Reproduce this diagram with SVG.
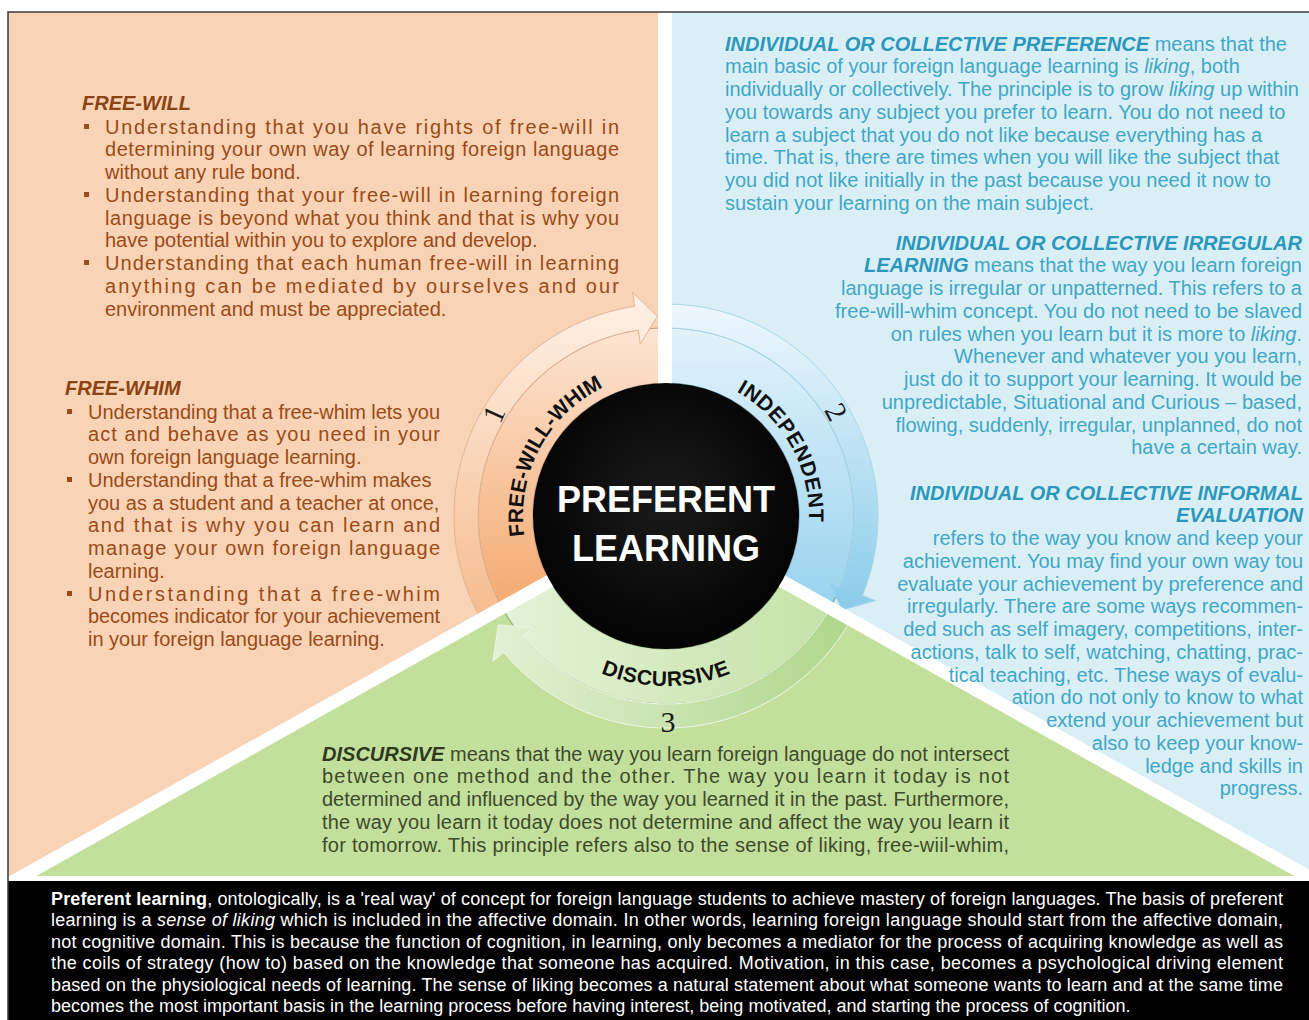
<svg xmlns="http://www.w3.org/2000/svg" width="1309" height="1020" viewBox="0 0 1309 1020">
<style>
.t{font-family:"Liberation Sans",Arial,sans-serif;font-size:20px}
.pe{fill:#9a4b17}
.peh{fill:#8c4312}
.bl{fill:#40a7c7}
.blh{fill:#2b97bc}
.gr{fill:#3d4b2c}
.grh{fill:#2e3a20}
.h{font-weight:bold;font-style:italic}
.it{font-style:italic}
.wb{font-family:"Liberation Sans",Arial,sans-serif;font-size:18px;fill:#ffffff}
.lbl{font-family:"Liberation Sans",Arial,sans-serif;font-weight:bold;font-size:21px;fill:#111111}
.dig{font-family:"Liberation Serif","Times New Roman",serif;font-size:30px;fill:#1a1a1a}
.ctr{font-family:"Liberation Sans",Arial,sans-serif;font-weight:bold;font-size:36px;fill:#ffffff}
.sep{stroke:#ffffff;fill:none}
</style>
<defs>
<linearGradient id="gPeachIn" gradientUnits="userSpaceOnUse" x1="0" y1="320" x2="0" y2="625"><stop offset="0" stop-color="#fde6d6"/><stop offset="1" stop-color="#f3a66a"/></linearGradient>
<linearGradient id="gPeachArr" gradientUnits="userSpaceOnUse" x1="0" y1="295" x2="0" y2="625"><stop offset="0" stop-color="#fff1e6"/><stop offset="1" stop-color="#f5ba8c"/></linearGradient>
<linearGradient id="gBlueIn" gradientUnits="userSpaceOnUse" x1="0" y1="320" x2="0" y2="610"><stop offset="0" stop-color="#e4f4fb"/><stop offset="1" stop-color="#98d2ee"/></linearGradient>
<linearGradient id="gBlueArr" gradientUnits="userSpaceOnUse" x1="0" y1="300" x2="0" y2="615"><stop offset="0" stop-color="#eff8fd"/><stop offset="1" stop-color="#88cbea"/></linearGradient>
<linearGradient id="gGreenIn" gradientUnits="userSpaceOnUse" x1="500" y1="0" x2="840" y2="0"><stop offset="0" stop-color="#e4f2d7"/><stop offset="1" stop-color="#c4e2a6"/></linearGradient>
<linearGradient id="gGreenArr" gradientUnits="userSpaceOnUse" x1="480" y1="0" x2="860" y2="0"><stop offset="0" stop-color="#e3f1d6"/><stop offset="1" stop-color="#aed68a"/></linearGradient>
<radialGradient id="gCircle" cx="0.5" cy="0.45" r="0.55"><stop offset="0" stop-color="#1b1b1b"/><stop offset="1" stop-color="#030303"/></radialGradient>
<path id="fwwPath" d="M 524.4 535.9 A 143 143 0 0 1 617.1 381.6"/>
<path id="indPath" d="M 733.1 389.7 A 143 143 0 0 1 808.5 528.5"/>
<path id="disPath" d="M 568.5 655.3 A 170 170 0 0 0 763.5 655.3"/>
</defs>

<g id="background">
<rect x="0" y="0" width="1309" height="1020" fill="#ffffff"/>
<rect x="8" y="12" width="658" height="870" fill="#f9d3b6"/>
<rect x="666" y="12" width="643" height="870" fill="#daeff5"/>
<path d="M666 516 L8 884.3 L8 900 L1309 900 L1309 876.9 Z" fill="#c3df9c"/>
</g>

<g id="segment-free-will-whim">
<path d="M 501.3 606.6 A 188 188 0 0 1 666 328 L 666 383 A 133 133 0 0 0 549.5 580.1 Z" fill="url(#gPeachIn)" stroke="#a8856d" stroke-width="1.2" stroke-opacity="0.7"/>
</g>
<g id="segment-independent">
<path d="M 666 328 A 188 188 0 0 1 830 608 L 782 581.1 A 133 133 0 0 0 666 383 Z" fill="url(#gBlueIn)" stroke="#5f8fa3" stroke-width="1.2" stroke-opacity="0.7"/>
</g>
<g id="segment-discursive">
<path d="M 830 608 A 188 188 0 0 1 501.3 606.6 L 549.5 580.1 A 133 133 0 0 0 782 581.1 Z" fill="url(#gGreenIn)" stroke="#7d9d68" stroke-width="1.2" stroke-opacity="0.7"/>
</g>

<g id="connectors">
<path id="arrow-1" d="M 480.2 618.1 A 212 212 0 0 1 634.7 306.3 L 632.6 292.5 L 657.3 316.2 L 640.3 343.9 L 638.2 330.1 A 188 188 0 0 0 501.3 606.6 Z" fill="url(#gPeachArr)" stroke="#e2b596" stroke-width="1"/>
<path id="arrow-2" d="M 666 304 A 212 212 0 0 1 862.6 595.4 L 875.5 600.7 L 842.6 609.9 L 827.3 581.2 L 840.3 586.4 A 188 188 0 0 0 666 328 Z" fill="url(#gBlueArr)" stroke="#a9d7ec" stroke-width="1"/>
<path id="arrow-3" d="M 850.9 619.8 A 212 212 0 0 1 503.6 652.3 L 492.9 661.3 L 498.3 624.9 L 532.7 627.8 L 522 636.8 A 188 188 0 0 0 830 608 Z" fill="url(#gGreenArr)" stroke="#eef7e6" stroke-width="1"/>
</g>

<g id="separators">
<rect x="658" y="12" width="14" height="505" fill="#ffffff"/>
<line class="sep" x1="666" y1="516" x2="8" y2="884.3" stroke-width="13"/>
<line class="sep" x1="666" y1="516" x2="1332" y2="889.8" stroke-width="13"/>
<rect x="8" y="876" width="1301" height="6" fill="#ffffff"/>
</g>

<g id="center">
<circle cx="666" cy="516" r="133" fill="url(#gCircle)"/>
<text class="ctr" x="666" y="512" text-anchor="middle">PREFERENT</text>
<text class="ctr" x="666" y="561" text-anchor="middle">LEARNING</text>
</g>

<g id="ring-labels">
<text class="lbl"><textPath href="#fwwPath" startOffset="0">FREE-W</textPath></text>
<text class="lbl"><textPath href="#fwwPath" startOffset="82.8">ILL-WHIM</textPath></text>
<text class="lbl" letter-spacing="0.6"><textPath href="#indPath" startOffset="4">INDEPEN</textPath></text>
<text class="lbl" letter-spacing="0.6"><textPath href="#indPath" startOffset="101.5">DENT</textPath></text>
<text class="lbl" letter-spacing="0.5"><textPath href="#disPath" startOffset="50%" text-anchor="middle">DISCURSIVE</textPath></text>
<text class="dig" text-anchor="middle" transform="translate(494 414) rotate(-66)" x="0" y="10">1</text>
<text class="dig" text-anchor="middle" transform="translate(836 412) rotate(62)" x="0" y="10">2</text>
<text class="dig" text-anchor="middle" x="668" y="732">3</text>
</g>

<g id="free-will">
<text class="t peh h" x="82" y="110">FREE-WILL</text>
<rect x="84" y="124" width="5" height="5" fill="#9a4b17"/>
<rect x="84" y="192" width="5" height="5" fill="#9a4b17"/>
<rect x="84" y="260" width="5" height="5" fill="#9a4b17"/>
<text class="t pe" x="105" y="133.5" textLength="514" lengthAdjust="spacing">Understanding that you have rights of free-will in</text>
<text class="t pe" x="105" y="156.3" textLength="514" lengthAdjust="spacing">determining your own way of learning foreign language</text>
<text class="t pe" x="105" y="179">without any rule bond.</text>
<text class="t pe" x="105" y="201.8" textLength="514" lengthAdjust="spacing">Understanding that your free-will in learning foreign</text>
<text class="t pe" x="105" y="224.5" textLength="514" lengthAdjust="spacing">language is beyond what you think and that is why you</text>
<text class="t pe" x="105" y="247.3">have potential within you to explore and develop.</text>
<text class="t pe" x="105" y="270" textLength="514" lengthAdjust="spacing">Understanding that each human free-will in learning</text>
<text class="t pe" x="105" y="292.8" textLength="514" lengthAdjust="spacing">anything can be mediated by ourselves and our</text>
<text class="t pe" x="105" y="315.5">environment and must be appreciated.</text>
</g>

<g id="free-whim">
<text class="t peh h" x="65" y="395">FREE-WHIM</text>
<rect x="67" y="409" width="5" height="5" fill="#9a4b17"/>
<rect x="67" y="477" width="5" height="5" fill="#9a4b17"/>
<rect x="67" y="591" width="5" height="5" fill="#9a4b17"/>
<text class="t pe" x="88" y="418.5" textLength="352" lengthAdjust="spacing">Understanding that a free-whim lets you</text>
<text class="t pe" x="88" y="441.3" textLength="352" lengthAdjust="spacing">act and behave as you need in your</text>
<text class="t pe" x="88" y="464">own foreign language learning.</text>
<text class="t pe" x="88" y="486.8">Understanding that a free-whim makes</text>
<text class="t pe" x="88" y="509.5">you as a student and a teacher at once,</text>
<text class="t pe" x="88" y="532.3" textLength="352" lengthAdjust="spacing">and that is why you can learn and</text>
<text class="t pe" x="88" y="555" textLength="352" lengthAdjust="spacing">manage your own foreign language</text>
<text class="t pe" x="88" y="577.8">learning.</text>
<text class="t pe" x="88" y="600.5" textLength="352" lengthAdjust="spacing">Understanding that a free-whim</text>
<text class="t pe" x="88" y="623.3" textLength="352" lengthAdjust="spacing">becomes indicator for your achievement</text>
<text class="t pe" x="88" y="646">in your foreign language learning.</text>
</g>

<g id="preference">
<text class="t bl" x="725" y="50.5"><tspan class="blh h">INDIVIDUAL OR COLLECTIVE PREFERENCE</tspan> means that the</text>
<text class="t bl" x="725" y="73.3">main basic of your foreign language learning is <tspan class="it">liking</tspan>, both</text>
<text class="t bl" x="725" y="96">individually or collectively. The principle is to grow <tspan class="it">liking</tspan> up within</text>
<text class="t bl" x="725" y="118.8">you towards any subject you prefer to learn. You do not need to</text>
<text class="t bl" x="725" y="141.5">learn a subject that you do not like because everything has a</text>
<text class="t bl" x="725" y="164.3">time. That is, there are times when you will like the subject that</text>
<text class="t bl" x="725" y="187">you did not like initially in the past because you need it now to</text>
<text class="t bl" x="725" y="209.8">sustain your learning on the main subject.</text>
</g>

<g id="irregular">
<text class="t blh h" x="1302" y="249.5" text-anchor="end">INDIVIDUAL OR COLLECTIVE IRREGULAR</text>
<text class="t bl" x="1302" y="272.3" text-anchor="end"><tspan class="blh h">LEARNING</tspan> means that the way you learn foreign</text>
<text class="t bl" x="1302" y="295" text-anchor="end">language is irregular or unpatterned. This refers to a</text>
<text class="t bl" x="1302" y="317.8" text-anchor="end">free-will-whim concept. You do not need to be slaved</text>
<text class="t bl" x="1302" y="340.5" text-anchor="end">on rules when you learn but it is more to <tspan class="it">liking</tspan>.</text>
<text class="t bl" x="1302" y="363.3" text-anchor="end">Whenever and whatever you you learn,</text>
<text class="t bl" x="1302" y="386" text-anchor="end">just do it to support your learning. It would be</text>
<text class="t bl" x="1302" y="408.8" text-anchor="end">unpredictable, Situational and Curious – based,</text>
<text class="t bl" x="1302" y="431.5" text-anchor="end">flowing, suddenly, irregular, unplanned, do not</text>
<text class="t bl" x="1302" y="454.3" text-anchor="end">have a certain way.</text>
</g>

<g id="informal-evaluation">
<text class="t blh h" x="1303" y="499.5" text-anchor="end">INDIVIDUAL OR COLLECTIVE INFORMAL</text>
<text class="t blh h" x="1303" y="522.3" text-anchor="end">EVALUATION</text>
<text class="t bl" x="1303" y="545" text-anchor="end">refers to the way you know and keep your</text>
<text class="t bl" x="1303" y="567.8" text-anchor="end">achievement. You may find your own way tou</text>
<text class="t bl" x="1303" y="590.5" text-anchor="end">evaluate your achievement by preference and</text>
<text class="t bl" x="1303" y="613.3" text-anchor="end">irregularly. There are some ways recommen-</text>
<text class="t bl" x="1303" y="636" text-anchor="end">ded such as self imagery, competitions, inter-</text>
<text class="t bl" x="1303" y="658.8" text-anchor="end">actions, talk to self, watching, chatting, prac-</text>
<text class="t bl" x="1303" y="681.5" text-anchor="end">tical teaching, etc. These ways of evalu-</text>
<text class="t bl" x="1303" y="704.3" text-anchor="end">ation do not only to know to what</text>
<text class="t bl" x="1303" y="727" text-anchor="end">extend your achievement but</text>
<text class="t bl" x="1303" y="749.8" text-anchor="end">also to keep your know-</text>
<text class="t bl" x="1303" y="772.5" text-anchor="end">ledge and skills in</text>
<text class="t bl" x="1303" y="795.3" text-anchor="end">progress.</text>
</g>

<g id="discursive">
<text class="t gr" x="322" y="760.5" textLength="687" lengthAdjust="spacing"><tspan class="grh h">DISCURSIVE</tspan> means that the way you learn foreign language do not intersect</text>
<text class="t gr" x="322" y="783.3" textLength="687" lengthAdjust="spacing">between one method and the other. The way you learn it today is not</text>
<text class="t gr" x="322" y="806" textLength="687" lengthAdjust="spacing">determined and influenced by the way you learned it in the past. Furthermore,</text>
<text class="t gr" x="322" y="828.8" textLength="687" lengthAdjust="spacing">the way you learn it today does not determine and affect the way you learn it</text>
<text class="t gr" x="322" y="851.5" textLength="687" lengthAdjust="spacing">for tomorrow. This principle refers also to the sense of liking, free-wiil-whim,</text>
</g>

<g id="summary">
<rect x="8" y="881" width="1301" height="139" fill="#000000"/>
<text class="wb" x="51" y="905" textLength="1232" lengthAdjust="spacing"><tspan font-weight="bold">Preferent learning</tspan>, ontologically, is a 'real way' of concept for foreign language students to achieve mastery of foreign languages. The basis of preferent</text>
<text class="wb" x="51" y="926.4" textLength="1232" lengthAdjust="spacing">learning is a <tspan class="it">sense of liking</tspan> which is included in the affective domain. In other words, learning foreign language should start from the affective domain,</text>
<text class="wb" x="51" y="947.8" textLength="1232" lengthAdjust="spacing">not cognitive domain. This is because the function of cognition, in learning, only becomes a mediator for the process of acquiring knowledge as well as</text>
<text class="wb" x="51" y="969.2" textLength="1232" lengthAdjust="spacing">the coils of strategy (how to) based on the knowledge that someone has acquired. Motivation, in this case, becomes a psychological driving element</text>
<text class="wb" x="51" y="990.6" textLength="1232" lengthAdjust="spacing">based on the physiological needs of learning. The sense of liking becomes a natural statement about what someone wants to learn and at the same time</text>
<text class="wb" x="51" y="1012">becomes the most important basis in the learning process before having interest, being motivated, and starting the process of cognition.</text>
</g>

<path id="frame" d="M8 1020 V12 H1309" fill="none" stroke="#3a3a3a" stroke-width="1.5"/>
</svg>
